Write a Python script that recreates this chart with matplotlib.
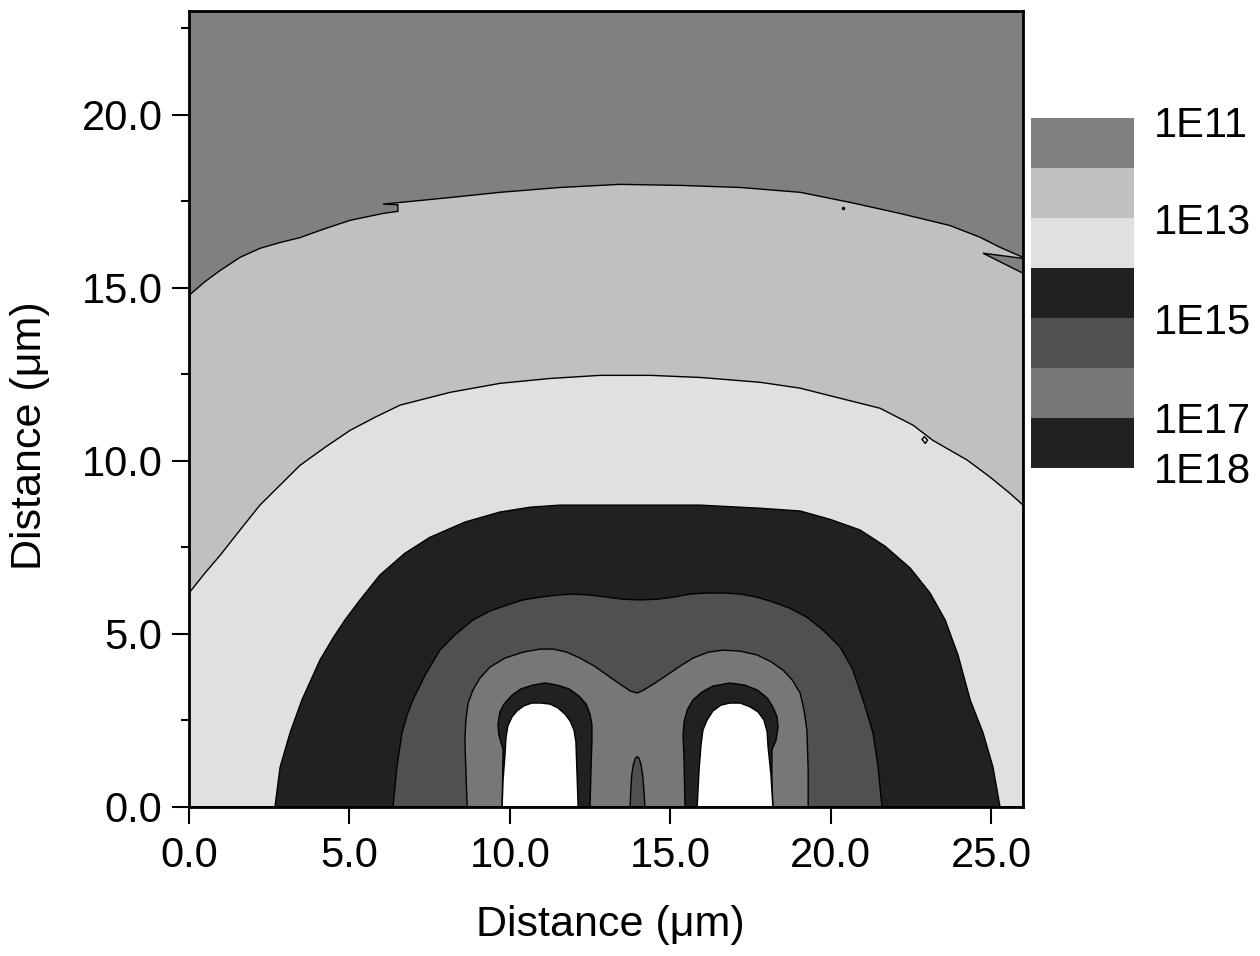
import matplotlib
matplotlib.use("Agg")
import matplotlib.pyplot as plt
from matplotlib.colors import ListedColormap, BoundaryNorm
from matplotlib.cm import ScalarMappable

plt.rcParams['font.family'] = ['Liberation Sans', 'DejaVu Sans']

# contour boundaries (x, y in um)
a_x = [0, 0.50, 0.97, 1.59, 2.21, 2.84, 3.46, 4.24, 5.02, 6.05, 6.51, 6.51, 6.05, 6.51, 8.14, 9.70, 11.56, 13.43,
       15.31, 17.18, 19.05, 20.60, 22.16, 23.72, 24.66, 25.28, 26.0]
a_y = [14.78, 15.18, 15.50, 15.88, 16.14, 16.31, 16.45, 16.71, 16.95, 17.15, 17.21, 17.40, 17.42, 17.46, 17.61, 17.76, 17.90, 17.99,
       17.96, 17.90, 17.76, 17.47, 17.15, 16.80, 16.46, 16.17, 15.88]

b_x = [0, 0.50, 0.97, 1.59, 2.21, 2.84, 3.46, 4.24, 5.02, 5.80, 6.58, 8.14, 9.70, 11.25, 12.81, 14.37, 15.93,
       17.80, 19.05, 20.29, 21.54, 22.57, 23.19, 24.26, 24.97, 25.59, 26.0]
b_y = [6.18, 6.76, 7.27, 8.00, 8.72, 9.30, 9.87, 10.39, 10.88, 11.26, 11.61, 11.98, 12.24, 12.38, 12.47, 12.47, 12.41,
       12.27, 12.10, 11.81, 11.52, 11.03, 10.59, 10.02, 9.53, 9.06, 8.72]

c_x = [2.68, 2.84, 3.15, 3.52, 4.08, 4.49, 4.86, 5.33, 5.95, 6.73, 7.51, 8.60, 9.69, 10.63, 11.56, 14.06, 15.93,
       17.80, 19.05, 19.98, 20.92, 21.70, 22.48, 23.10, 23.57, 23.97, 24.35, 24.75, 25.06, 25.28]
c_y = [0, 1.15, 2.14, 3.09, 4.24, 4.88, 5.40, 5.98, 6.70, 7.33, 7.79, 8.23, 8.52, 8.66, 8.72, 8.72, 8.72,
       8.63, 8.55, 8.31, 8.00, 7.53, 6.90, 6.18, 5.40, 4.39, 3.09, 2.14, 1.15, 0]

d_x = [6.36, 6.42, 6.48, 6.64, 6.80, 6.98, 7.36, 7.82, 8.29, 8.85, 9.38, 9.91, 10.41, 10.94, 11.47, 11.97, 12.50,
       13.03, 13.53, 14.06, 14.59, 15.09, 15.62, 16.15, 16.65, 17.18, 17.71, 18.20, 18.73, 19.26, 19.76, 20.29,
       20.67, 21.01, 21.32, 21.48, 21.60]
d_y = [0, 0.58, 1.15, 2.14, 2.66, 3.09, 3.81, 4.53, 4.97, 5.40, 5.66, 5.83, 5.98, 6.06, 6.12, 6.15, 6.12,
       6.06, 6.00, 5.98, 6.00, 6.06, 6.15, 6.18, 6.18, 6.15, 6.06, 5.92, 5.74, 5.48, 5.11, 4.62,
       4.01, 3.09, 2.14, 1.15, 0]

e_x = [8.67, 8.63, 8.60, 8.63, 8.70, 8.85, 9.07, 9.38, 9.85, 10.41, 10.94, 11.35, 11.78, 12.19, 12.63, 13.03,
       13.43, 13.75, 13.97, 14.18, 14.53, 14.90, 15.31, 15.71, 16.18, 16.65, 17.18, 17.71, 18.15, 18.52, 18.80,
       19.05, 19.17, 19.26, 19.30, 19.30]
e_y = [0, 1.07, 1.93, 2.51, 3.00, 3.38, 3.72, 4.04, 4.30, 4.47, 4.56, 4.56, 4.47, 4.30, 4.07, 3.81,
       3.55, 3.35, 3.29, 3.38, 3.58, 3.81, 4.07, 4.30, 4.47, 4.53, 4.50, 4.39, 4.19, 3.95, 3.67,
       3.29, 2.80, 2.22, 1.07, 0]

ring_l_x = [9.76, 9.79, 9.66, 9.63, 9.69, 9.82, 10.07, 10.35, 10.72, 11.10, 11.47, 11.85, 12.16, 12.38, 12.50,
            12.56, 12.56, 12.53, 12.50]
ring_l_y = [0, 1.65, 2.08, 2.37, 2.74, 2.97, 3.23, 3.41, 3.52, 3.58, 3.52, 3.41, 3.20, 2.97, 2.68,
            2.37, 1.93, 1.07, 0]
ring_r_x = [15.46, 15.43, 15.40, 15.43, 15.53, 15.71, 15.99, 16.33, 16.86, 17.32, 17.71, 18.02, 18.20, 18.33,
            18.36, 18.30, 18.17, 18.17, 18.20]
ring_r_y = [0, 1.36, 2.08, 2.45, 2.80, 3.09, 3.32, 3.49, 3.58, 3.52, 3.38, 3.15, 2.89, 2.60,
            2.31, 1.93, 1.65, 0.78, 0]

hole_l_x = [9.76, 9.79, 9.85, 9.88, 9.94, 10.07, 10.22, 10.44, 10.69, 10.97, 11.25, 11.50, 11.72, 11.88, 12.00,
            12.06, 12.09, 12.13]
hole_l_y = [0, 0.78, 1.50, 1.99, 2.34, 2.60, 2.77, 2.92, 3.00, 3.00, 2.97, 2.86, 2.68, 2.48, 2.22,
            1.88, 1.07, 0]
hole_r_x = [15.84, 15.90, 15.96, 16.02, 16.15, 16.33, 16.58, 16.86, 17.18, 17.49, 17.74, 17.92, 18.02, 18.05,
            18.14, 18.20]
hole_r_y = [0, 1.07, 1.79, 2.22, 2.51, 2.77, 2.94, 3.00, 3.00, 2.89, 2.74, 2.51, 2.17, 1.73,
            0.92, 0]

spike_x = [13.75, 13.77, 13.80, 13.85, 13.91, 13.97, 14.03, 14.09, 14.14, 14.18, 14.21]
spike_y = [0, 0.49, 0.92, 1.22, 1.40, 1.45, 1.40, 1.22, 0.92, 0.49, 0]

sliver_x = [24.75, 26.0, 26.0]
sliver_y = [16.0, 15.85, 15.42]
loop_x = [22.85, 22.92, 23.02, 22.95, 22.85]
loop_y = [10.62, 10.70, 10.60, 10.50, 10.62]

levels = ['1E11', '1E13', '1E15', '1E17', '1E18']
level_pos = [6.94, 5, 3, 1, 0]
colors = ['#808080', '#c0c0c0', '#e0e0e0', '#212121', '#505050', '#777777', '#212121']

fig = plt.figure(figsize=(12.6, 9.56), dpi=100)
ax = fig.add_axes([0.150, 0.156, 0.662, 0.8325])
ax.set_facecolor(colors[0])

lw = 1.0
ax.fill(a_x + [26, 0], a_y + [0, 0], color=colors[1], ec='black', lw=lw)
ax.fill(sliver_x, sliver_y, color=colors[0], ec='black', lw=lw)
ax.fill(b_x + [26, 0], b_y + [0, 0], color=colors[2], ec='black', lw=lw)
ax.fill(loop_x, loop_y, color=colors[2], ec='black', lw=lw)
ax.fill(c_x, c_y, color=colors[3], ec='black', lw=lw)
ax.fill(d_x, d_y, color=colors[4], ec='black', lw=lw)
ax.fill(e_x, e_y, color=colors[5], ec='black', lw=lw)
ax.fill(ring_l_x, ring_l_y, color=colors[6], ec='black', lw=lw)
ax.fill(ring_r_x, ring_r_y, color=colors[6], ec='black', lw=lw)
ax.fill(hole_l_x, hole_l_y, color='white', ec='black', lw=lw)
ax.fill(hole_r_x, hole_r_y, color='white', ec='black', lw=lw)
ax.fill(spike_x, spike_y, color=colors[4], ec='black', lw=lw)
ax.plot([20.39], [17.32], 'k.', ms=3)

ax.set_xlim(0, 26)
ax.set_ylim(0, 23)
ax.set_xticks([0, 5, 10, 15, 20, 25])
ax.set_yticks([0, 5, 10, 15, 20])
ax.set_yticks([2.5, 7.5, 12.5, 17.5, 22.5], minor=True)
ax.set_xticklabels(['0.0', '5.0', '10.0', '15.0', '20.0', '25.0'])
ax.set_yticklabels(['0.0', '5.0', '10.0', '15.0', '20.0'])
ax.tick_params(which='major', length=12, width=1.5, labelsize=30, pad=7)
ax.tick_params(axis='x', pad=9)
ax.tick_params(which='minor', length=6, width=1.5)
for s in ax.spines.values():
    s.set_linewidth(2)

ax.set_xlabel('Distance (\u03bcm)', fontsize=31)
ax.set_ylabel('Distance (\u03bcm)', fontsize=31)
ax.xaxis.set_label_coords(0.505, -0.123)
ax.yaxis.set_label_coords(-0.167, 0.467)

cax = fig.add_axes([0.818, 0.5105, 0.082, 0.366])
sm = ScalarMappable(norm=BoundaryNorm(range(8), 7), cmap=ListedColormap(colors[::-1]))
cb = fig.colorbar(sm, cax=cax)
cb.set_ticks(level_pos)
cb.set_ticklabels(levels)
cb.outline.set_visible(False)
cax.minorticks_off()
cax.tick_params(which='both', length=0, labelsize=30, pad=14)

fig.savefig('out.png', dpi=100)
